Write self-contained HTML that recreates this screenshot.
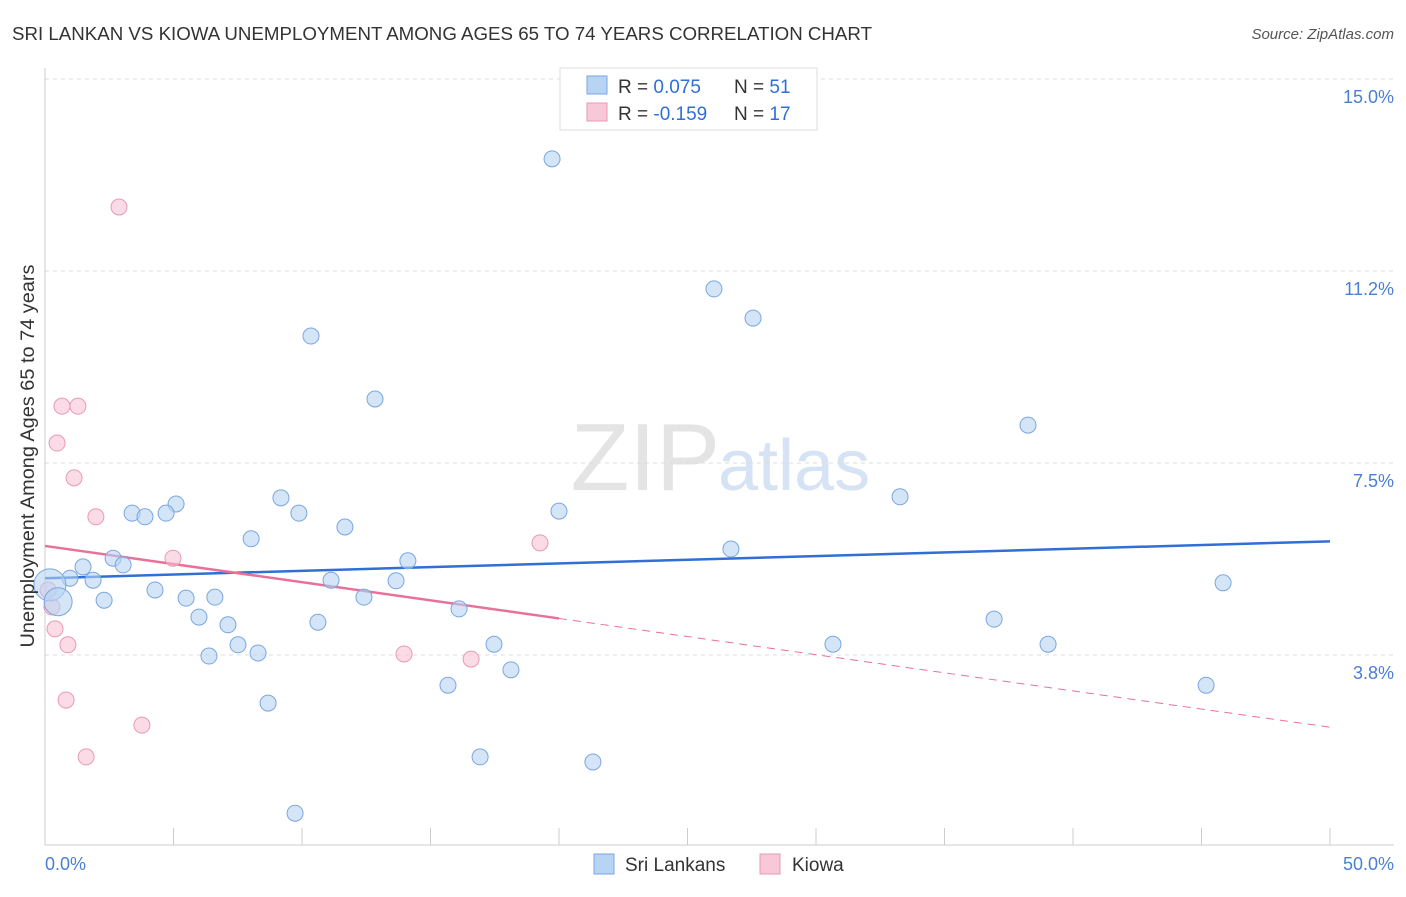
<!DOCTYPE html>
<html><head><meta charset="utf-8"><style>
body{margin:0;background:#fff;font-family:"Liberation Sans",sans-serif;}
svg text{font-family:"Liberation Sans",sans-serif;}
</style></head><body>
<svg id="chart" width="1406" height="892">
<text x="12" y="40" font-size="18" fill="#333" textLength="860" lengthAdjust="spacingAndGlyphs">SRI LANKAN VS KIOWA UNEMPLOYMENT AMONG AGES 65 TO 74 YEARS CORRELATION CHART</text>
<text x="1394" y="39" font-size="15" fill="#555" font-style="italic" text-anchor="end">Source: ZipAtlas.com</text>
<text x="720" y="490" font-size="96" fill="#e4e4e4" text-anchor="end" font-family="Liberation Serif">ZIP</text>
<text x="718" y="490" font-size="72" fill="#d6e3f4">atlas</text>
<g id="grid"></g><g id="axes"></g><g id="trends"></g><g id="pts"></g>
<text transform="translate(34,456) rotate(-90)" font-size="19" fill="#333" text-anchor="middle" textLength="383" lengthAdjust="spacingAndGlyphs">Unemployment Among Ages 65 to 74 years</text>
<text x="45" y="870" font-size="18" fill="#4a7fd4">0.0%</text>
<text x="1394" y="870" font-size="18" fill="#4a7fd4" text-anchor="end">50.0%</text>
<g>
<rect x="560" y="68" width="257" height="62" fill="#fff" stroke="#ddd"/>
<rect x="587" y="76" width="20" height="18" fill="#b8d4f4" stroke="#7aa6e0"/>
<rect x="587" y="103" width="20" height="18" fill="#f8c8d8" stroke="#e79ab6"/>
<text x="618" y="93" font-size="19" fill="#333">R = <tspan fill="#2f6fd6">0.075</tspan></text>
<text x="734" y="93" font-size="19" fill="#333">N = <tspan fill="#2f6fd6">51</tspan></text>
<text x="618" y="120" font-size="19" fill="#333">R = <tspan fill="#2f6fd6">-0.159</tspan></text>
<text x="734" y="120" font-size="19" fill="#333">N = <tspan fill="#2f6fd6">17</tspan></text>
</g>
<g>
<rect x="594" y="854" width="20" height="20" fill="#b8d4f4" stroke="#7aa6e0"/>
<text x="625" y="871" font-size="19" fill="#333">Sri Lankans</text>
<rect x="760" y="854" width="20" height="20" fill="#f8c8d8" stroke="#e79ab6"/>
<text x="792" y="871" font-size="19" fill="#333">Kiowa</text>
</g>
</svg>
<script>
const yTicks=[15.0,11.25,7.5,3.75];
const yTickLabels=["15.0%","11.2%","7.5%","3.8%"];
const xTicks=[0,5,10,15,20,25,30,35,40,45,50];
const blueX=[19.73,26.03,27.55,10.35,12.84,38.25,33.27,9.18,5.10,3.39,3.89,4.71,9.88,20.00,11.67,8.02,26.69,2.65,3.04,14.12,1.48,0.97,1.87,11.13,13.66,45.84,4.28,2.30,5.49,6.61,12.41,16.11,5.99,7.12,10.62,36.93,7.51,17.47,30.66,39.03,6.38,8.29,18.13,15.68,45.18,8.68,16.93,21.32,9.73,0.19,0.51];
const blueY=[13.44,10.90,10.33,9.98,8.75,8.24,6.84,6.82,6.70,6.52,6.45,6.52,6.52,6.56,6.25,6.02,5.82,5.64,5.51,5.59,5.47,5.25,5.21,5.21,5.20,5.16,5.02,4.82,4.86,4.88,4.88,4.65,4.49,4.34,4.39,4.45,3.95,3.96,3.96,3.96,3.73,3.79,3.46,3.16,3.16,2.81,1.76,1.66,0.66,5.12,4.79];
const blueR=[8,8,8,8,8,8,8,8,8,8,8,8,8,8,8,8,8,8,8,8,8,8,8,8,8,8,8,8,8,8,8,8,8,8,8,8,8,8,8,8,8,8,8,8,8,8,8,8,8,16,14];
const pinkX=[2.88,0.66,1.28,0.47,1.13,1.98,4.98,19.26,0.12,0.27,0.39,0.89,13.97,16.58,0.82,3.77,1.60];
const pinkY=[12.50,8.61,8.61,7.89,7.21,6.45,5.64,5.94,5.02,4.69,4.26,3.95,3.77,3.67,2.87,2.38,1.76];
const blueTrend=[5.25,5.97];
const pinkTrend=[5.88,2.34];
const pinkSolidEnd=20;
const X=v=>45+v/50*1285, Y=v=>79+(15-v)*51.2;
const NS="http://www.w3.org/2000/svg";
function mk(t,a,p){const e=document.createElementNS(NS,t);for(const k in a)e.setAttribute(k,a[k]);document.getElementById(p).appendChild(e);return e;}
yTicks.forEach((t,i)=>{
 const l=mk('line',{x1:45,x2:1394,y1:Y(t),y2:Y(t),stroke:'#ddd','stroke-dasharray':'4,4'},'grid');
 
 
 const tx=mk('text',{x:1394,y:Y(t)+24,'font-size':18,fill:'#4a7fd4','text-anchor':'end'},'grid');
 tx.textContent=yTickLabels[i];
 
 
});
const ax=mk('line',{x1:45,x2:1394,y1:845,y2:845,stroke:'#ccc'},'axes');


const ay=mk('line',{x1:45,x2:45,y1:68,y2:845,stroke:'#ccc'},'axes');


xTicks.forEach(t=>{
 const l=mk('line',{x1:X(t),x2:X(t),y1:828,y2:845,stroke:'#ccc'},'axes');
 
 
});
const bt=mk('line',{x1:X(0),y1:Y(blueTrend[0]),x2:X(50),y2:Y(blueTrend[1]),stroke:'#2f6fd6','stroke-width':2.5},'trends');


const pm=pinkTrend[0]+(pinkTrend[1]-pinkTrend[0])*pinkSolidEnd/50;
const pt=mk('line',{x1:X(0),y1:Y(pinkTrend[0]),x2:X(pinkSolidEnd),y2:Y(pm),stroke:'#e8719a','stroke-width':2.5},'trends');


const pd=mk('line',{x1:X(pinkSolidEnd),y1:Y(pm),x2:X(50),y2:Y(pinkTrend[1]),stroke:'#e8719a','stroke-width':1,'stroke-dasharray':'8,6'},'trends');


pinkX.forEach((x,i)=>{
 const c=mk('circle',{cx:X(x),cy:Y(pinkY[i]),r:8,fill:'rgba(248,190,210,0.55)',stroke:'#e79ab6'},'pts');
 
 
});
blueX.forEach((x,i)=>{
 const c=mk('circle',{cx:X(x),cy:Y(blueY[i]),r:blueR[i],fill:'rgba(184,212,244,0.6)',stroke:'#7aa6e0'},'pts');
 
 
});
</script>
</body></html>
